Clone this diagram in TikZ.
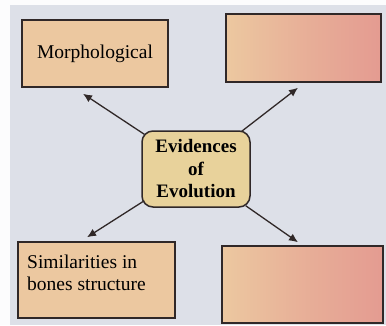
\documentclass[tikz,border=0pt]{standalone}
\usepackage{fontspec}
\setmainfont{Liberation Serif}
\usetikzlibrary{arrows.meta}
\definecolor{paper}{RGB}{221,224,232}
\definecolor{tan}{RGB}{236,200,160}
\definecolor{pinkish}{RGB}{228,155,145}
\definecolor{khaki}{RGB}{232,210,155}
\definecolor{ink}{RGB}{48,40,40}
\tikzset{
  leafbox/.style={draw=ink,line width=1.5pt,fill=tan,inner sep=0pt},
  blankbox/.style={leafbox,left color=tan,right color=pinkish,middle color={tan!45!pinkish}},
  evbox/.style={draw=ink,line width=1.5pt,fill=khaki,rounded corners=11pt,align=center,
    minimum width=108pt,minimum height=76pt,font=\bfseries\fontsize{19}{22.5}\selectfont},
  pointer/.style={draw=ink,line width=1.3pt,-{Latex[length=9pt,width=8pt]}}
}
\begin{document}
\begin{tikzpicture}[x=1pt,y=1pt]
\useasboundingbox (0,0) rectangle (386,325);
\fill[white!92!paper] (0,0) rectangle (386,325);
\fill[paper] (10,0) rectangle (386,320);
\node[leafbox,minimum width=146pt,minimum height=67pt,font=\fontsize{19.5}{22}\selectfont]
  (morph) at (95,271.5) {Morphological};
\node[blankbox,minimum width=155pt,minimum height=68pt] (tr) at (303.5,277) {};
\node[evbox] (ev) at (196,156) {Evidences\\of\\Evolution};
\node[leafbox,minimum width=157pt,minimum height=76pt] (sim) at (96.5,45) {};
\node[align=left,anchor=west,inner sep=0pt,font=\fontsize{19.5}{22}\selectfont]
  (simtext) at (27,52) {Similarities in\\bones structure};
\node[blankbox,minimum width=161pt,minimum height=77pt] (br) at (302.5,40.5) {};
% arrows out of the centre box
\draw[pointer] ([shift={(3,-4)}]ev.north west) -- ([shift={(-12,-6)}]morph.south);
\draw[pointer] ([shift={(-9,-1)}]ev.north east) -- ([shift={(-5.5,-5)}]tr.south);
\draw[pointer] ([shift={(3,7)}]ev.south west) -- ([shift={(-9.5,4)}]sim.north);
\draw[pointer] ([shift={(-5,2)}]ev.south east) -- ([shift={(-4.5,3)}]br.north);
\end{tikzpicture}
\end{document}
